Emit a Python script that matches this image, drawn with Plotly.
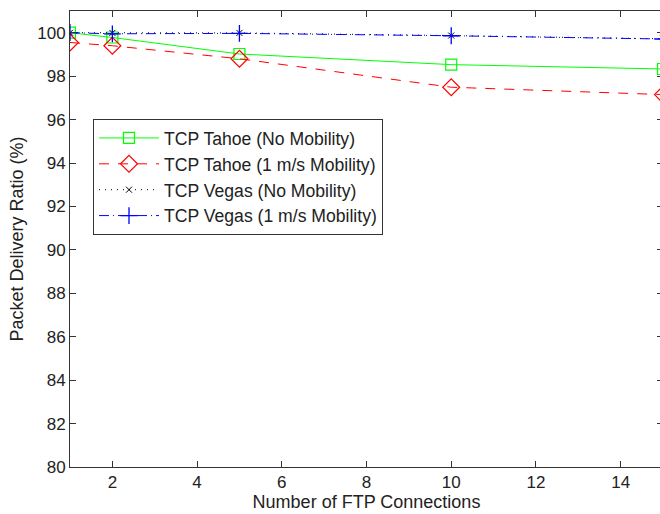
import plotly.graph_objects as go

connections = [1, 2, 5, 10, 15]
tahoe_no_mob = [100.0, 99.78, 99.02, 98.53, 98.33]
tahoe_1ms = [99.55, 99.40, 98.80, 97.49, 97.15]
vegas_no_mob = [100.0, 99.99, 99.99, 99.87, 99.72]
vegas_1ms = [100.0, 99.95, 99.97, 99.86, 99.71]

series_names = [
    "TCP Tahoe (No Mobility)",
    "TCP Tahoe (1 m/s Mobility)",
    "TCP Vegas (No Mobility)",
    "TCP Vegas (1 m/s Mobility)",
]
y_ticks = [80, 82, 84, 86, 88, 90, 92, 94, 96, 98, 100]
x_ticks = [2, 4, 6, 8, 10, 12, 14]

FONT = "Liberation Sans, Arial, Helvetica, sans-serif"
AX = "#333333"
TXT = "#222222"

fig = go.Figure()
fig.add_trace(go.Scatter(
    x=connections, y=tahoe_no_mob, name=series_names[0], mode="lines+markers",
    line=dict(color="#00FF00", width=1, dash="solid"),
    marker=dict(symbol="square-open", size=11, color="#00FF00", line=dict(width=1.2))))
fig.add_trace(go.Scatter(
    x=connections, y=tahoe_1ms, name=series_names[1], mode="lines+markers",
    line=dict(color="#FF0000", width=1, dash="10px,9px"),
    marker=dict(symbol="diamond-open", size=13, color="#FF0000", line=dict(width=1.2))))
fig.add_trace(go.Scatter(
    x=connections, y=vegas_no_mob, name=series_names[2], mode="lines+markers",
    line=dict(color="#000000", width=1, dash="1px,5px"),
    marker=dict(symbol="x-thin-open", size=6, color="#000000", line=dict(width=1, color="#000000"))))
fig.add_trace(go.Scatter(
    x=connections, y=vegas_1ms, name=series_names[3], mode="lines+markers",
    line=dict(color="#0000FF", width=1, dash="10px,4px,1px,4px"),
    marker=dict(symbol="cross-thin-open", size=12, color="#0000FF", line=dict(width=1.3, color="#0000FF"))))

# body margin removed (see post_script); plot area spans x 70..663 (window cuts at 660), y 11..467
fig.update_layout(
    width=664, height=514,
    margin=dict(l=70, r=1, t=11, b=47),
    paper_bgcolor="white", plot_bgcolor="white",
    font=dict(family=FONT, size=18, color=TXT),
    showlegend=True,
    legend=dict(
        x=(93 - 70) / 593, y=(467 - 119) / 456, xanchor="left", yanchor="top",
        bgcolor="white", bordercolor=AX, borderwidth=1,
        font=dict(family=FONT, size=17.6, color=TXT),
        itemwidth=60, tracegroupgap=0,
    ),
)
fig.update_xaxes(
    range=[1, 15], tickmode="array", tickvals=x_ticks,
    ticks="inside", ticklen=6, tickcolor=AX, tickwidth=1,
    showline=True, linecolor=AX, linewidth=1, mirror="ticks",
    showgrid=False, zeroline=False,
    title=dict(text="Number of FTP Connections", standoff=3, font=dict(size=18)),
    tickfont=dict(size=17),
)
fig.update_yaxes(
    range=[80, 101], tickmode="array", tickvals=y_ticks,
    ticks="inside", ticklen=6, tickcolor=AX, tickwidth=1,
    showline=True, linecolor=AX, linewidth=1, mirror="ticks",
    showgrid=False, zeroline=False,
    title=dict(text="Packet Delivery Ratio (%)", standoff=8, font=dict(size=18)),
    tickfont=dict(size=17),
)

page_js = (
    "document.body.style.margin='0px';"
    "document.body.style.overflow='hidden';"
    "document.documentElement.style.overflow='hidden';"
)
fig.write_html("out.html", post_script=page_js, config={"displayModeBar": False})
